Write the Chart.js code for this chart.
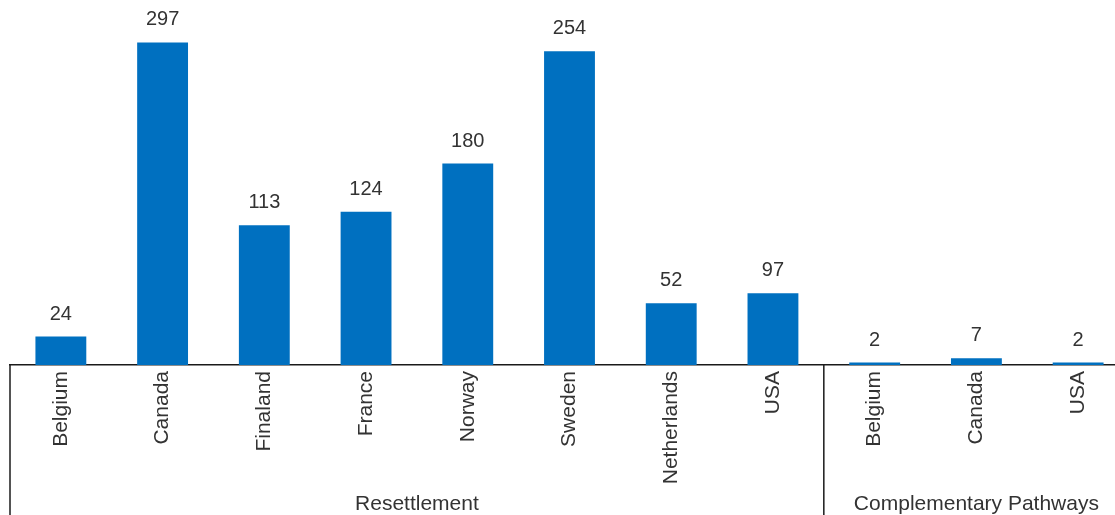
<!DOCTYPE html>
<html>
<head>
<meta charset="utf-8">
<script src="https://cdn.jsdelivr.net/npm/chart.js@4.4.1/dist/chart.umd.min.js"></script>
<style>
  html, body { margin: 0; padding: 0; background: #fff; overflow: hidden; }
  #wrap { position: absolute; left: 0; top: 0; width: 1129px; height: 515px; }
</style>
</head>
<body>
<div id="wrap"><canvas id="c" width="1129" height="515"></canvas></div>
<script>
// Categories (country per pathway)
const categories = ['Belgium', 'Canada', 'Finaland', 'France', 'Norway', 'Sweden', 'Netherlands', 'USA', 'Belgium', 'Canada', 'USA'];
// Bar heights as drawn in the picture
const barValues = [23, 261, 113, 124, 163, 254, 50, 58, 2, 5.5, 2];
// Data labels printed above the bars
const labelValues = [24, 297, 113, 124, 180, 254, 52, 97, 2, 7, 2];
// Group (pathway) labels and how many categories each spans
const groupLabels = ['Resettlement', 'Complementary Pathways'];
const groupSizes = [8, 3];

const FONT = '"Liberation Sans", Arial, Helvetica, sans-serif';
const TEXT = '#333333';
const LINE = '#1a1a1a';

const dataLabelPlugin = {
  id: 'dataLabels',
  afterDatasetsDraw(chart) {
    const ctx = chart.ctx;
    const meta = chart.getDatasetMeta(0);
    ctx.save();
    ctx.font = '20px ' + FONT;
    ctx.fillStyle = TEXT;
    ctx.textAlign = 'center';
    ctx.textBaseline = 'alphabetic';
    meta.data.forEach((bar, i) => {
      ctx.fillText(String(labelValues[i]), bar.x, bar.y - 17);
    });
    ctx.restore();
  }
};

const groupPlugin = {
  id: 'groups',
  afterDraw(chart) {
    const ctx = chart.ctx;
    const xs = chart.scales.x;
    const ca = chart.chartArea;
    const catW = (ca.right - ca.left) / categories.length;
    ctx.save();
    ctx.strokeStyle = LINE;
    ctx.lineWidth = 1.5;
    ctx.font = '21px ' + FONT;
    ctx.fillStyle = TEXT;
    ctx.textAlign = 'center';
    ctx.textBaseline = 'middle';
    let idx = 0;
    const bottom = chart.height;
    groupLabels.forEach((g, gi) => {
      const left = xs.getPixelForValue(idx) - catW / 2;
      const right = xs.getPixelForValue(idx + groupSizes[gi] - 1) + catW / 2;
      ctx.beginPath();
      ctx.moveTo(left, ca.bottom);
      ctx.lineTo(left, bottom);
      ctx.stroke();
      if (gi === groupLabels.length - 1) {
        ctx.beginPath();
        ctx.moveTo(right, ca.bottom);
        ctx.lineTo(right, bottom);
        ctx.stroke();
      }
      ctx.fillText(g, (left + right) / 2, 504);
      idx += groupSizes[gi];
    });
    ctx.restore();
  }
};

new Chart(document.getElementById('c'), {
  type: 'bar',
  data: {
    labels: categories,
    datasets: [{
      data: barValues,
      backgroundColor: '#0070C0',
      borderWidth: 0,
      categoryPercentage: 1.0,
      barPercentage: 0.5
    }]
  },
  options: {
    responsive: false,
    animation: false,
    layout: { padding: { top: 19, left: 10, right: 0, bottom: 0 } },
    plugins: {
      legend: { display: false },
      tooltip: { enabled: false },
      title: { display: false }
    },
    scales: {
      x: {
        grid: { display: false, drawTicks: false },
        border: { display: true, color: LINE, width: 1.5 },
        ticks: {
          autoSkip: false,
          minRotation: 90,
          maxRotation: 90,
          padding: 6,
          color: TEXT,
          font: { family: FONT, size: 21 }
        },
        afterFit(scale) { scale.height = 150; }
      },
      y: {
        display: false,
        min: 0,
        max: 280
      }
    }
  },
  plugins: [dataLabelPlugin, groupPlugin]
});
</script>
</body>
</html>
